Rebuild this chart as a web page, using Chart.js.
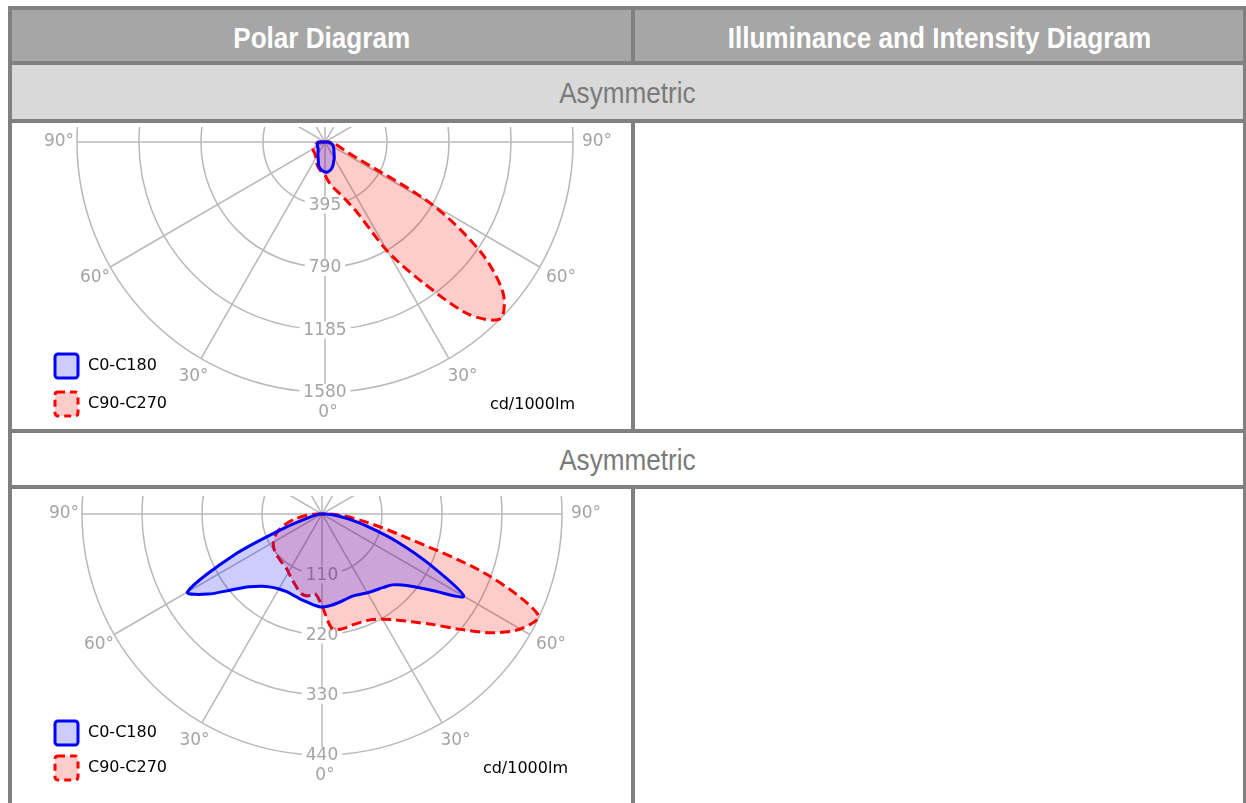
<!DOCTYPE html>
<html>
<head>
<meta charset="utf-8">
<script src="https://cdn.jsdelivr.net/npm/chart.js@4.4.1/dist/chart.umd.min.js"></script>
<style>
  body { margin: 0; width: 1246px; height: 803px; overflow: hidden; position: relative; background: #fff; }
  .frame { position: absolute; left: 8px; top: 6px; width: 1239px; height: 830px; background: #808080; }
  .cell { position: absolute; background: #fff; overflow: hidden; }
  .head { background: #a6a6a6; color: #fff; font-family: "Liberation Sans Narrow", "Arial Narrow", "Liberation Sans", sans-serif; font-weight: bold; font-size: 30px; text-align: center; line-height: 55px; }
  .sub { color: #7a7a7a; font-family: "Liberation Sans Narrow", "Arial Narrow", "Liberation Sans", sans-serif; font-size: 30px; text-align: center; }
  .head span, .sub span { display: inline-block; transform: scaleX(0.87); }
  canvas { position: absolute; left: 0; }
</style>
</head>
<body>
<div class="frame">
  <div class="cell head" style="left:4px;top:4px;width:619px;height:51px;"><span>Polar Diagram</span></div>
  <div class="cell head" style="left:627px;top:4px;width:608px;height:51px;"><span>Illuminance and Intensity Diagram</span></div>
  <div class="cell sub" style="left:4px;top:59px;width:1231px;height:54px;line-height:56px;background:#d9d9d9;"><span>Asymmetric</span></div>
  <div class="cell" style="left:4px;top:117px;width:619px;height:306px;">
    <canvas id="polarTop" width="619" height="302" style="top:4px;"></canvas>
  </div>
  <div class="cell" style="left:627px;top:117px;width:608px;height:306px;"></div>
  <div class="cell sub" style="left:4px;top:427px;width:1231px;height:52px;line-height:54px;"><span>Asymmetric</span></div>
  <div class="cell" style="left:4px;top:483px;width:619px;height:400px;">
    <canvas id="polarBottom" width="619" height="310" style="top:7px;"></canvas>
  </div>
  <div class="cell" style="left:627px;top:483px;width:608px;height:400px;"></div>
</div>
<script>
// gamma angles (deg from nadir), negative = left half of the diagram
const gammaDeg = [-90, -85, -80, -75, -70, -65, -60, -55, -50, -45, -40, -35, -30, -25, -20, -15, -10, -5,
  0, 5, 10, 15, 20, 25, 30, 35, 40, 45, 50, 55, 60, 65, 70, 75, 80, 85, 90];

const seriesNames = ["C0-C180", "C90-C270"];
const unitLabel = "cd/1000lm";
const angleTicks = [0, 30, 60, 90];

// first luminaire
const ticksTop = [395, 790, 1185, 1580];
const c0Top = [44, 46, 48, 50, 52, 54, 56, 57, 58, 62, 68, 78, 90, 104, 125, 155, 172, 183,
  190, 190, 183, 170, 152, 132, 118, 102, 90, 80, 74, 68, 62, 57, 53, 45, 35, 25, 19];
const c90Top = [30, 42, 55, 65, 75, 82, 88, 92, 93, 95, 100, 107, 115, 130, 150, 165, 180, 195,
  210, 250, 290, 330, 390, 500, 800, 1080, 1420, 1580, 1480, 1210, 780, 170, 110, 80, 60, 40, 25];

// second luminaire
const ticksBottom = [110, 220, 330, 440];
const c0Bottom = [5, 8, 12, 25, 70, 180, 285, 255, 215, 188, 172, 163, 158, 156, 157, 160, 163, 167,
  170, 168, 165, 162, 160, 162, 166, 170, 175, 183, 203, 242, 300, 218, 145, 85, 46, 22, 8];
const c90Bottom = [10, 28, 48, 68, 84, 95, 103, 108, 111, 113, 115, 117, 123, 131, 140, 150, 152, 146,
  168, 210, 213, 210, 210, 213, 222, 236, 257, 285, 327, 378, 420, 438, 320, 150, 80, 40, 12];

const labelFont = "17px 'DejaVu Sans', sans-serif";
const legendFont = "16px 'DejaVu Sans', sans-serif";
const gridColor = "#b8b8b8";
const labelColor = "#a4a4a4";

function toPoints(values) {
  const pts = [{ x: 0, y: 0 }];
  values.forEach(function (v, i) {
    const g = gammaDeg[i] * Math.PI / 180;
    pts.push({ x: v * Math.sin(g), y: -v * Math.cos(g) });
  });
  pts.push({ x: 0, y: 0 });
  return pts;
}

// grid, ring labels and angle labels, drawn under the curves
const polarGrid = {
  id: "polarGrid",
  beforeDatasetsDraw(chart, args, opts) {
    const ctx = chart.ctx;
    const xs = chart.scales.x, ys = chart.scales.y;
    const ox = xs.getPixelForValue(0), oy = ys.getPixelForValue(0);
    const ticks = opts.ticks;
    const maxT = ticks[ticks.length - 1];
    const rx = function (v) { return xs.getPixelForValue(v) - ox; };
    const ry = function (v) { return ys.getPixelForValue(-v) - oy; };
    ctx.save();
    ctx.strokeStyle = gridColor;
    ctx.lineWidth = 1.5;
    ticks.forEach(function (t) {
      ctx.beginPath();
      ctx.ellipse(ox, oy, rx(t), ry(t), 0, 0, 2 * Math.PI);
      ctx.stroke();
    });
    for (let a = 0; a < 180; a += 30) {
      const s = Math.sin(a * Math.PI / 180), c = Math.cos(a * Math.PI / 180);
      ctx.beginPath();
      ctx.moveTo(ox - rx(maxT) * s, oy - ry(maxT) * c);
      ctx.lineTo(ox + rx(maxT) * s, oy + ry(maxT) * c);
      ctx.stroke();
    }
    ctx.font = labelFont;
    ctx.textAlign = "center";
    ctx.textBaseline = "middle";
    ticks.forEach(function (t) {
      const txt = String(t);
      const w = ctx.measureText(txt).width;
      const py = oy + ry(t);
      ctx.fillStyle = "#ffffff";
      ctx.fillRect(ox - w / 2 - 4, py - 8, w + 8, 17);
      ctx.fillStyle = labelColor;
      ctx.fillText(txt, ox, py + 1);
    });
    angleTicks.forEach(function (a) {
      const s = Math.sin(a * Math.PI / 180), c = Math.cos(a * Math.PI / 180);
      const sides = a === 0 ? [1] : [-1, 1];
      sides.forEach(function (side) {
        const px = ox + side * (rx(maxT) + 21) * s;
        const py = oy + (ry(maxT) + 21) * c;
        ctx.fillStyle = labelColor;
        ctx.fillText(a + "\u00b0", px + 3, py);
      });
    });
    ctx.restore();
  },
  afterDatasetsDraw(chart, args, opts) {
    const ctx = chart.ctx;
    const ds = chart.data.datasets;
    const lg = opts.legend;
    ctx.save();
    ctx.font = legendFont;
    ctx.textBaseline = "middle";
    ctx.textAlign = "left";
    // legend: C0-C180 first, C90-C270 second
    [ds[0], ds[1]].forEach(function (d, i) {
      const x = lg.x, y = lg.y + i * lg.gap;
      ctx.beginPath();
      ctx.roundRect(x, y, 23, 24, 3);
      ctx.fillStyle = d.backgroundColor;
      ctx.fill();
      ctx.lineWidth = 3;
      ctx.strokeStyle = d.borderColor;
      ctx.setLineDash(d.borderDash ? [7, 5] : []);
      ctx.stroke();
      ctx.setLineDash([]);
      ctx.fillStyle = "#000000";
      ctx.fillText(d.label, x + 33, y + 12);
    });
    ctx.textAlign = "right";
    ctx.fillText(unitLabel, lg.unitX, lg.y + lg.gap + 13);
    ctx.restore();
  }
};

function polarChart(id, c0, c90, ticks, geo) {
  const canvas = document.getElementById(id);
  const W = canvas.width, H = canvas.height;
  const maxT = ticks[ticks.length - 1];
  const kx = geo.rx / maxT, ky = geo.ry / maxT;
  return new Chart(canvas, {
    type: "scatter",
    data: {
      datasets: [{
        label: seriesNames[0],
        data: toPoints(c0),
        showLine: true,
        borderColor: "#0000ff",
        borderWidth: 3,
        backgroundColor: "rgba(0, 0, 255, 0.2)",
        fill: "shape",
        pointRadius: 0,
        tension: 0.3,
      }, {
        label: seriesNames[1],
        data: toPoints(c90),
        showLine: true,
        borderColor: "#ff0000",
        borderDash: [10, 5],
        borderWidth: 3,
        backgroundColor: "rgba(255, 0, 0, 0.2)",
        fill: "shape",
        pointRadius: 0,
        tension: 0.3,
      }],
    },
    options: {
      responsive: false,
      animation: false,
      events: [],
      layout: { padding: 0 },
      scales: {
        x: { type: "linear", display: false, min: -geo.cx / kx, max: (W - geo.cx) / kx },
        y: { type: "linear", display: false, min: -(H - geo.cy) / ky, max: geo.cy / ky },
      },
      plugins: {
        legend: { display: false },
        tooltip: { enabled: false },
        polarGrid: { ticks: ticks, legend: geo.legend },
      },
    },
    plugins: [polarGrid],
  });
}

polarChart("polarTop", c0Top, c90Top, ticksTop,
  { cx: 313, cy: 15, rx: 248, ry: 250, legend: { x: 43, y: 227, gap: 38, unitX: 563 } });
polarChart("polarBottom", c0Bottom, c90Bottom, ticksBottom,
  { cx: 310, cy: 18, rx: 240, ry: 241, legend: { x: 43, y: 225, gap: 35, unitX: 556 } });
</script>
</body>
</html>
